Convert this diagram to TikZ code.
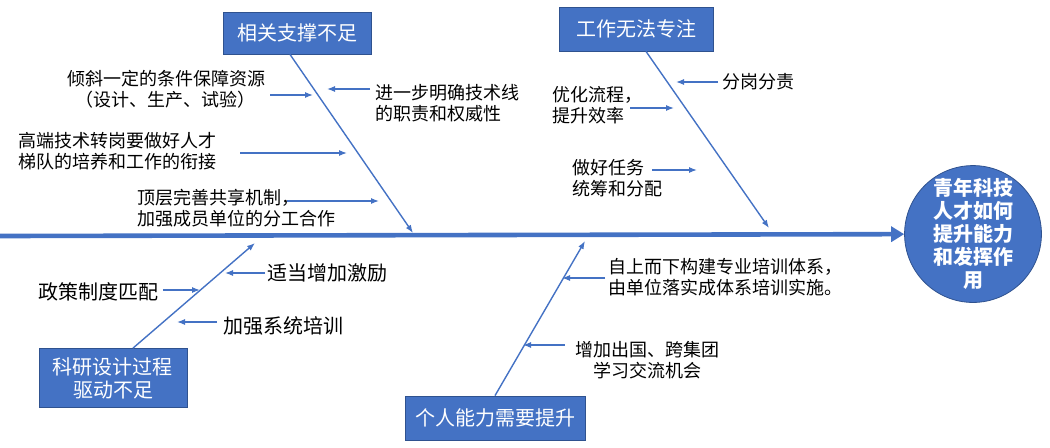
\documentclass[tikz,border=0pt]{standalone}
\usepackage{fontspec}
\setmainfont{Noto Sans CJK SC}
\usetikzlibrary{arrows.meta,positioning,calc}
\definecolor{kek}{HTML}{4472C4}
\definecolor{sotetkek}{HTML}{2F528F}
\tikzset{
  fej/.style={draw=sotetkek,fill=kek,text=white,align=center,inner sep=2pt,
    font=\fontsize{10}{11.5}\selectfont},
  cel/.style={circle,draw=sotetkek,fill=kek,text=white,align=center,inner sep=0pt,
    minimum size=68pt,font=\bfseries\fontsize{10}{11.5}\selectfont},
  szov/.style={inner sep=0pt,font=\fontsize{9}{10.5}\selectfont},
  szovn/.style={inner sep=0pt,font=\fontsize{10}{11.5}\selectfont},
  nyil/.style={kek,line width=0.6pt,-{Latex[length=4pt,width=3pt]}},
  csont/.style={kek,line width=0.7pt,-{Latex[length=4pt,width=3pt]}},
  gerinc/.style={kek,line width=2.3pt,-{Triangle[length=6.5pt,width=7.5pt]}},
}

\begin{document}
\begin{tikzpicture}[x=0.5pt,y=-0.5pt]
  \useasboundingbox (0,0) rectangle (1050,447);
  % fo tengely es cel
  \node[cel] (cel) at (973,234) {青年科技\\人才如何\\提升能力\\和发挥作\\用};
  \coordinate (kezd) at (0,236);
  \draw[gerinc] (kezd) -- (cel);

  % fejek
  \node[fej,minimum width=74pt,minimum height=21pt] (tam) at (297,33) {相关支撑不足};
  \node[fej,minimum width=77pt,minimum height=22pt] (mun) at (636,29) {工作无法专注};
  \node[fej,minimum width=74pt,minimum height=29.5pt] (kut) at (113,378) {科研设计过程\\驱动不足};
  \node[fej,minimum width=90pt,minimum height=22pt] (kep) at (495,418) {个人能力需要提升};

  % csontok
  \coordinate (v1) at (413,233);
  \coordinate (v2) at (769,228);
  \coordinate (v3) at (255,243);
  \coordinate (v4) at (585,241);
  \draw[csont] ([xshift=-3.5pt]tam.south) -- (v1);
  \draw[csont] ([xshift=5pt]mun.south) -- (v2);
  \draw[csont] ([xshift=10pt]kut.north) -- (v3);
  \draw[csont] (kep.north) -- (v4);

  % bal felso ag
  \node[szov,align=center] (qx) at (166,89) {倾斜一定的条件保障资源\\（设计、生产、试验）};
  \node[szov,align=left,anchor=west] (jy) at (375,103) {进一步明确技术线\\的职责和权威性};
  \node[szov,align=left,anchor=west] (gd) at (18,151) {高端技术转岗要做好人才\\梯队的培养和工作的衔接};
  \node[szov,align=left,anchor=west] (dc) at (137,208) {顶层完善共享机制，\\加强成员单位的分工合作};
  \coordinate (a1) at (313,95);
  \coordinate (a2) at (327,89);
  \coordinate (a3) at (347,153);
  \coordinate (a4) at (379,201);
  \draw[nyil] ($(qx.east |- a1)+(5,0)$) -- (a1);
  \draw[nyil] ($(jy.west |- a2)+(-5,0)$) -- (a2);
  \draw[nyil] ($(gd.west |- a3)+(222,0)$) -- (a3);
  \draw[nyil] ($(dc.west |- a4)+(150,0)$) -- (a4);

  % jobb felso ag
  \node[szov,anchor=west] (fg) at (722,82) {分岗分责};
  \node[szov,align=left,anchor=west] (yh) at (552,105) {优化流程，\\提升效率};
  \node[szov,align=left,anchor=west] (zh) at (572,178) {做好任务\\统筹和分配};
  \coordinate (b1) at (676,82);
  \coordinate (b2) at (674,108);
  \coordinate (b3) at (697,170);
  \draw[nyil] ($(fg.west |- b1)+(-4,0)$) -- (b1);
  \draw[nyil] ($(yh.west |- b2)+(78,0)$) -- (b2);
  \draw[nyil] ($(zh.west |- b3)+(80,0)$) -- (b3);

  % bal also ag
  \node[szovn,anchor=west] (sd) at (267,273) {适当增加激励};
  \node[szovn,anchor=west] (zc) at (38,292) {政策制度匹配};
  \node[szovn,anchor=west] (jq) at (223,326) {加强系统培训};
  \coordinate (c1) at (225,273);
  \coordinate (c2) at (200,290);
  \coordinate (c3) at (177,322);
  \draw[nyil] ($(sd.west |- c1)+(-2,0)$) -- (c1);
  \draw[nyil] ($(zc.east |- c2)+(4,0)$) -- (c2);
  \draw[nyil] ($(jq.west |- c3)+(-6,0)$) -- (c3);

  % jobb also ag
  \node[szov,align=left,anchor=west] (zs) at (608,277) {自上而下构建专业培训体系，\\由单位落实成体系培训实施。};
  \node[szov,align=center] (zj) at (647,360) {增加出国、跨集团\\学习交流机会};
  \coordinate (d1) at (562,278);
  \coordinate (d2) at (523,345);
  \draw[nyil] ($(zs.west |- d1)+(-3,0)$) -- (d1);
  \draw[nyil] ($(zj.west |- d2)+(-10,0)$) -- (d2);
\end{tikzpicture}
\end{document}
